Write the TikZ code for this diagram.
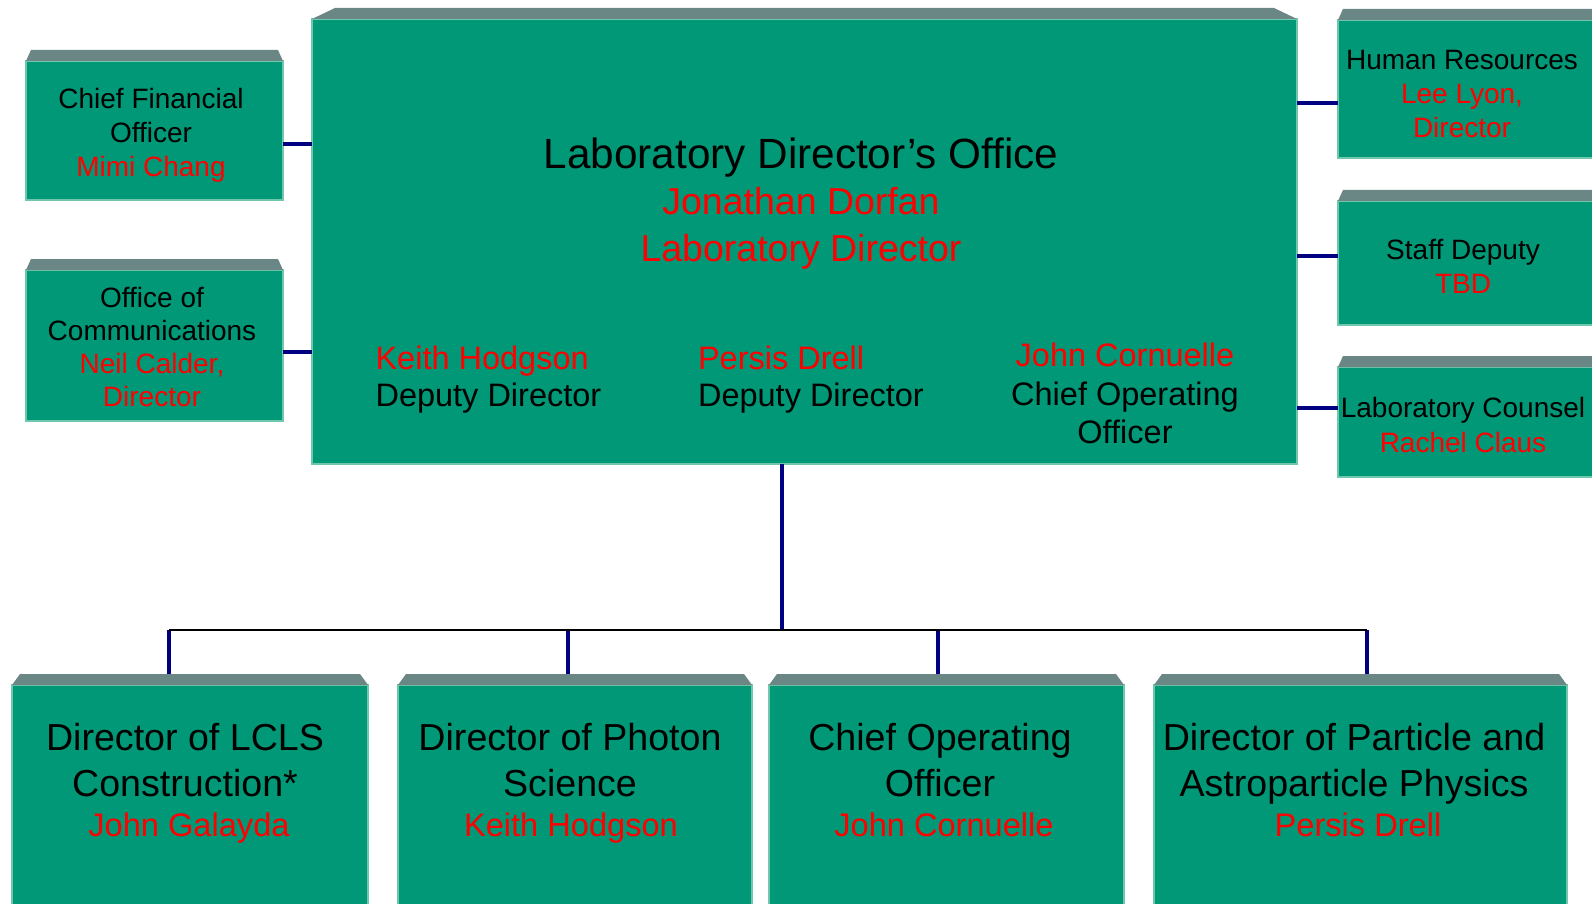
\documentclass[tikz,border=0pt]{standalone}
\usepackage{fontspec}
\setmainfont{Liberation Sans}
\definecolor{boxgreen}{RGB}{0,152,118}
\definecolor{boxlid}{RGB}{106,135,133}
\definecolor{boxedge}{RGB}{112,200,172}
\definecolor{linknavy}{RGB}{0,0,128}

\begin{document}
\begin{tikzpicture}[
    x=1pt, y=-1pt,
    orgbox/.style={
        draw=boxedge,
        line width=1.2pt,
        fill=boxgreen,
        anchor=north west,
        inner sep=0pt,
        outer sep=0pt
    },
    lid/.style={fill=boxlid},
    head/.style={anchor=base, align=center, font=\fontsize{42.3}{46}\selectfont},
    headname/.style={anchor=base, align=center, text=red, font=\fontsize{37.5}{46.5}\selectfont},
    deputy/.style={anchor=base west, align=left, font=\fontsize{32.5}{37}\selectfont},
    small/.style={anchor=base, align=center, font=\fontsize{28}{34}\selectfont},
    unit/.style={anchor=base, align=center, font=\fontsize{37.6}{46}\selectfont},
    unitname/.style={anchor=base, text=red, font=\fontsize{32.6}{38}\selectfont},
    link/.style={draw=linknavy, line width=4.5pt},
    bus/.style={draw=black, line width=1.5pt}
]
\useasboundingbox (0,0) rectangle (1592,904);
\clip (0,0) rectangle (1592,904);

% ---------- BOXES
\node[orgbox, minimum width=985pt, minimum height=445pt] (main) at (312,19) {};
\node[orgbox, minimum width=257pt, minimum height=139pt] (cfo) at (26,61) {};
\node[orgbox, minimum width=257pt, minimum height=151pt] (comm) at (26,270) {};
\node[orgbox, minimum width=270pt, minimum height=138pt] (hr) at (1338,20) {};
\node[orgbox, minimum width=270pt, minimum height=124pt] (staff) at (1338,201) {};
\node[orgbox, minimum width=270pt, minimum height=110pt] (counsel) at (1338,367) {};
\node[orgbox, minimum width=356pt, minimum height=235pt] (lcls) at (12,685) {};
\node[orgbox, minimum width=354pt, minimum height=235pt] (photon) at (398,685) {};
\node[orgbox, minimum width=355pt, minimum height=235pt] (coo) at (769,685) {};
\node[orgbox, minimum width=413pt, minimum height=235pt] (particle) at (1154,685) {};

% ---------- BEVELLED TOPS
\foreach \b/\i in {main/23, cfo/5, comm/5, hr/5, staff/5, counsel/5, lcls/8, photon/8, coo/8, particle/8}
    \fill[lid] (\b.north west) -- ++(\i,-11) -- ([xshift=-\i pt, yshift=11pt]\b.north east) -- (\b.north east) -- cycle;

% ---------- TEXTS (base = last line)
\node[head] (ldo) at (801,169) {Laboratory Director’s Office};
\node[headname] (ldo-name) at (801,261) {Jonathan Dorfan\\Laboratory Director};
\node[deputy] (dep-kh) at (372,406) {\textcolor{red}{Keith Hodgson}\\Deputy Director};
\node[deputy] (dep-pd) at (694.5,406) {\textcolor{red}{Persis Drell}\\Deputy Director};
\node[deputy, anchor=base, align=center, font=\fontsize{32.5}{38.5}\selectfont] (dep-jc) at (1125,443.5) {\textcolor{red}{John Cornuelle}\\Chief Operating\\Officer};

\node[small] (cfo-t) at (151,176.5) {Chief Financial\\Officer\\\textcolor{red}{Mimi Chang}};
\node[small, font=\fontsize{28}{33}\selectfont] (comm-t) at (152,406.5) {Office of\\Communications\\\textcolor{red}{Neil Calder,}\\\textcolor{red}{Director}};
\node[small] (hr-t) at (1462,137.5) {Human Resources\\\textcolor{red}{Lee Lyon,}\\\textcolor{red}{Director}};
\node[small] (staff-t) at (1463,293) {Staff Deputy\\\textcolor{red}{TBD}};
\node[small, font=\fontsize{28}{35}\selectfont] (counsel-t) at (1463,452) {Laboratory Counsel\\\textcolor{red}{Rachel Claus}};

\node[unit] (lcls-t) at (185,796.5) {Director of LCLS\\Construction*};
\node[unitname] (lcls-n) at (189,836) {John Galayda};
\node[unit] (photon-t) at (570,796.5) {Director of Photon\\Science};
\node[unitname] (photon-n) at (571,836) {Keith Hodgson};
\node[unit] (coo-t) at (940,796.5) {Chief Operating\\Officer};
\node[unitname] (coo-n) at (944,836) {John Cornuelle};
\node[unit] (particle-t) at (1354,796.5) {Director of Particle and\\Astroparticle Physics};
\node[unitname] (particle-n) at (1358,836) {Persis Drell};

% ---------- SIDE LINKS
\coordinate (cfo-l) at ([yshift=-13.5pt]cfo.east);
\coordinate (comm-l) at ([yshift=-6.5pt]comm.east);
\coordinate (hr-l) at ([yshift=-14pt]hr.west);
\coordinate (staff-l) at ([yshift=7pt]staff.west);
\coordinate (counsel-l) at ([yshift=14pt]counsel.west);
\draw[link] (cfo-l) -- (cfo-l -| main.west);
\draw[link] (comm-l) -- (comm-l -| main.west);
\draw[link] (hr-l) -- (hr-l -| main.east);
\draw[link] (staff-l) -- (staff-l -| main.east);
\draw[link] (counsel-l) -- (counsel-l -| main.east);

% ---------- DOWN TO THE UNITS
\coordinate (bus) at (782,630);
\coordinate (main-s) at ([xshift=-22.5pt]main.south);
\draw[link] (main-s) -- (bus);
\foreach \b/\dx in {lcls/-21, photon/-7, coo/-8.5, particle/6.5} {
    \coordinate (\b-drop) at ([xshift=\dx pt, yshift=11pt]\b.north);
    \draw[link] (\b-drop) -- (\b-drop |- bus);
}
\draw[bus] (lcls-drop |- bus) -- (particle-drop |- bus);

\end{tikzpicture}
\end{document}
